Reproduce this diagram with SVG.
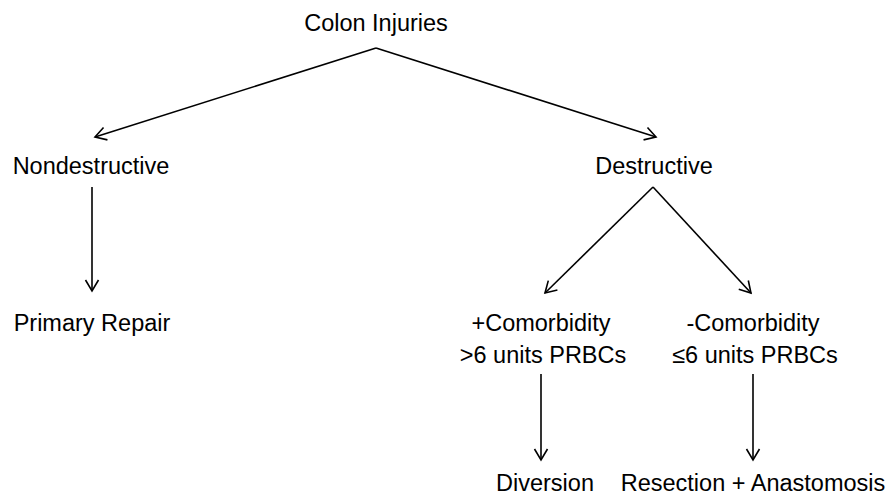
<svg xmlns="http://www.w3.org/2000/svg" width="888" height="497" viewBox="0 0 888 497">
<style>
text{font-family:"Liberation Sans",Arial,sans-serif;font-size:23.5px;fill:#000;text-anchor:middle}
.c{stroke:#000;stroke-width:1.6;fill:none}
</style>
<defs>
<marker id="a" markerWidth="16" markerHeight="16" refX="12" refY="8" orient="auto" markerUnits="userSpaceOnUse">
<path d="M1,1.5 L12,8 L1,14.5" fill="none" stroke="#000" stroke-width="1.6"/>
</marker>
</defs>
<rect width="888" height="497" fill="#fff"/>
<g id="connectors" class="c">
<path d="M376,48 L95,137" marker-end="url(#a)"/>
<path d="M376,48 L656,137" marker-end="url(#a)"/>
<path d="M92,187 L92,291" marker-end="url(#a)"/>
<path d="M653,187 L545,293" marker-end="url(#a)"/>
<path d="M653,187 L751,293" marker-end="url(#a)"/>
<path d="M541,374 L541,460" marker-end="url(#a)"/>
<path d="M753,374 L753,460" marker-end="url(#a)"/>
</g>
<g id="colon"><text x="376" y="31">Colon Injuries</text></g>
<g id="nondestructive"><text x="91" y="174">Nondestructive</text></g>
<g id="destructive"><text x="654" y="174">Destructive</text></g>
<g id="primary"><text x="92" y="331">Primary Repair</text></g>
<g id="pluscomorb"><text x="541" y="331">+Comorbidity</text><text x="543" y="363">&gt;6 units PRBCs</text></g>
<g id="minuscomorb"><text x="753" y="331">-Comorbidity</text><text x="755" y="363">≤6 units PRBCs</text></g>
<g id="diversion"><text x="545" y="491">Diversion</text></g>
<g id="resection"><text x="753" y="491">Resection + Anastomosis</text></g>
</svg>
